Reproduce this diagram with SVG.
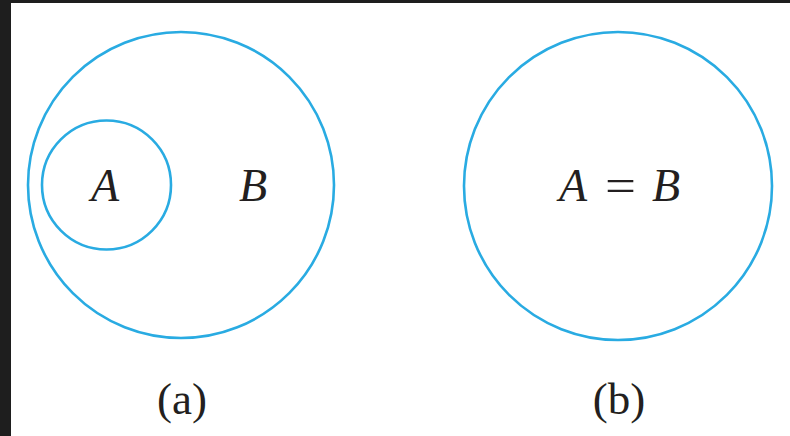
<svg xmlns="http://www.w3.org/2000/svg" width="790" height="436" viewBox="0 0 790 436">
<style>
.c{fill:none;stroke:#29abe2;stroke-width:2.6}
.t{font-family:"Liberation Serif","Times New Roman",serif;font-style:italic;font-size:46px;fill:#231f20}
.e{font-family:"Liberation Serif","Times New Roman",serif;font-size:46px;fill:#231f20}
.l{font-family:"Liberation Serif","Times New Roman",serif;font-size:45px;fill:#231f20}
</style>
<rect x="0" y="0" width="790" height="436" fill="#1e1e1e"/>
<rect x="11" y="3" width="779" height="433" fill="#ffffff"/>
<g id="setB_a">
<circle class="c" cx="181" cy="185" r="153"/>
<text class="t" x="253" y="201" text-anchor="middle">B</text>
</g>
<g id="setA_a">
<circle class="c" cx="106.5" cy="185" r="64.5"/>
<text class="t" x="105" y="201" text-anchor="middle">A</text>
</g>
<g id="setAB_b">
<circle class="c" cx="618" cy="186" r="154"/>
<text class="t" x="573" y="201" text-anchor="middle">A</text>
<text class="e" x="605" y="201" textLength="31" lengthAdjust="spacingAndGlyphs">=</text>
<text class="t" x="666" y="201" text-anchor="middle">B</text>
</g>
<g id="labels">
<text class="l" x="182" y="414" text-anchor="middle">(a)</text>
<text class="l" x="619" y="414" text-anchor="middle">(b)</text>
</g>
</svg>
